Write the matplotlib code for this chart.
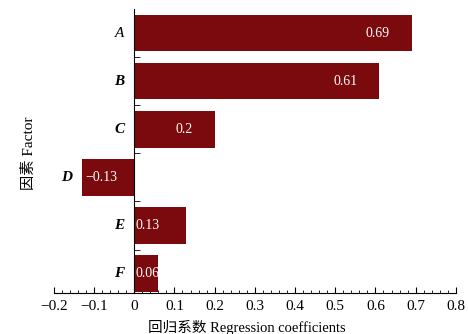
import numpy as np
import matplotlib.pyplot as plt
from matplotlib.ticker import MultipleLocator, FixedLocator

factors = ["A", "B", "C", "D", "E", "F"]
coefs = [0.69, 0.61, 0.2, -0.13, 0.13, 0.06]
value_labels = ["0.69", "0.61", "0.2", "\u22120.13", "0.13", "0.06"]
xticks = [-0.2, -0.1, 0, 0.1, 0.2, 0.3, 0.4, 0.5, 0.6, 0.7, 0.8]
xticklabels = ["\u22120.2", "\u22120.1", "0", "0.1", "0.2", "0.3", "0.4", "0.5", "0.6", "0.7", "0.8"]

serif = ["Liberation Serif", "Noto Sans CJK SC"]
plt.rcParams["font.family"] = serif

fig = plt.figure(figsize=(4.68, 3.34), dpi=100)
ax = fig.add_axes([0.115, 0.123, 0.859, 0.85])

y = np.arange(len(factors))
bar_col = "#7b0a0e"
ax.barh(y, coefs, height=0.76, color=bar_col, zorder=2)

for yi, v, lab, f in zip(y, coefs, value_labels, factors):
    # value text inside the bar
    if v < 0:
        ax.text(v + 0.008, yi, lab, ha="left", va="center", color="white", fontsize=10)
    elif v > 0.15:
        ax.text(v - 0.055, yi, lab, ha="right", va="center", color="white", fontsize=10)
    else:
        ax.text(0.004, yi, lab, ha="left", va="center", color="white", fontsize=10)
    # factor name just left of the bar
    ax.text(min(v, 0) - 0.025, yi, f, ha="right", va="center",
            fontsize=11, style="italic", fontweight="normal" if f == "A" else "bold")

ax.set_xlim(-0.2, 0.8)
ax.set_ylim(5.4, -0.5)

ax.spines["top"].set_visible(False)
ax.spines["right"].set_visible(False)
ax.spines["left"].set_position(("data", 0))
ax.spines["left"].set_zorder(3)

ax.set_yticks([])
ax.yaxis.set_minor_locator(FixedLocator(y[:-1] + 0.5))
ax.tick_params(axis="y", which="minor", direction="in", length=4, left=True)

ax.set_xticks(xticks)
ax.set_xticklabels(xticklabels, fontsize=11)
ax.xaxis.set_minor_locator(MultipleLocator(0.02))
ax.tick_params(axis="x", which="major", direction="in", length=4, pad=5)
ax.tick_params(axis="x", which="minor", direction="in", length=2)

ax.set_xlabel("回归系数 Regression coefficients", fontsize=10.5, labelpad=2)
ax.xaxis.set_label_coords(0.48, -0.095)
ax.text(-0.262, 2.5, "因素 Factor", rotation=90, ha="center", va="center", fontsize=11)

fig.savefig("out.png", dpi=100)
